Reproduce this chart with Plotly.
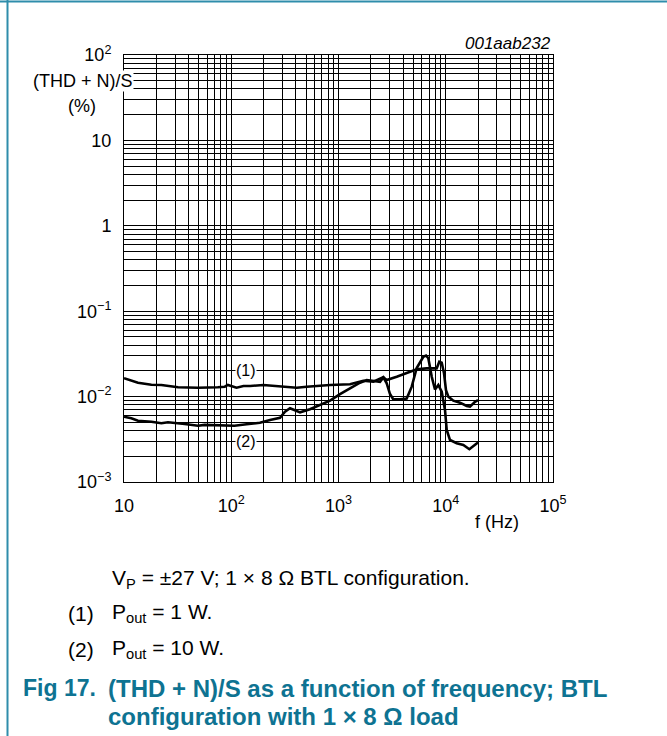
import plotly.graph_objects as go

# ---- data ----
freq1 = [10, 13.5, 18, 22.3, 31.9, 49, 75, 87, 93, 104, 112, 130, 150, 199, 265, 329, 408, 505, 627,
         834, 1280, 1374, 1703, 2112, 2619, 2815, 3020, 3246, 3744, 4323, 4817, 5360, 6180, 6550,
         6880, 7400, 7940, 8530, 9170, 9840, 10210, 10960, 12650, 14580, 16600, 19150, 20000]
thd1 = [0.0164, 0.01455, 0.01377, 0.01368, 0.01285, 0.0127, 0.01285, 0.01306, 0.01368, 0.01306,
        0.0127, 0.0133, 0.0133, 0.01368, 0.0133, 0.01306, 0.0127, 0.01306, 0.01342, 0.01368,
        0.01393, 0.01432, 0.01535, 0.01493, 0.01683, 0.01432, 0.01072, 0.00929, 0.00929, 0.0095,
        0.01306, 0.0216, 0.0293, 0.0303, 0.0281, 0.0171, 0.0121, 0.01368, 0.0114, 0.00697, 0.00406,
        0.0031, 0.00284, 0.00271, 0.00242, 0.00279, 0.0029]

freq2 = [10, 11.7, 13.5, 18, 22.3, 25.7, 36.8, 49, 56.5, 75, 93, 107, 139, 185, 230, 285, 317, 353,
         408, 438, 542, 672, 834, 1033, 1280, 1586, 1832, 2112, 2438, 2619, 2815, 3490, 4323, 5360,
         6640, 8220, 8710, 9170, 9640, 10050, 10570, 11760, 13580, 15680, 16830, 18740, 20000]
thd2 = [0.00582, 0.00557, 0.00522, 0.00508, 0.00487, 0.005, 0.00478, 0.00456, 0.00467, 0.00461,
        0.00453, 0.00456, 0.00474, 0.00494, 0.00532, 0.00566, 0.00665, 0.0073, 0.00678, 0.00654,
        0.0071, 0.00798, 0.00896, 0.0107, 0.0125, 0.01455, 0.01565, 0.0152, 0.0149, 0.0168,
        0.01565, 0.0171, 0.01875, 0.0209, 0.0214, 0.0214, 0.0256, 0.025, 0.01875, 0.0119, 0.01,
        0.00896, 0.0085, 0.00776, 0.00764, 0.0087, 0.0091]

x_tickvals = [10, 100, 1000, 10000, 100000]
x_ticktext = ["10", "10<sup>2</sup>", "10<sup>3</sup>", "10<sup>4</sup>", "10<sup>5</sup>"]
y_tickvals = [1e-3, 1e-2, 1e-1, 1, 10, 100]
y_ticktext = ["10<sup>−3</sup>", "10<sup>−2</sup>", "10<sup>−1</sup>", "1", "10", "10<sup>2</sup>"]

x_minor = [k * 10 ** d for d in range(1, 5) for k in range(2, 10)]
y_minor = [k * 10.0 ** d for d in range(-3, 2) for k in range(2, 10)]

TEAL = "#0e7392"
BORDER = "#2f8dab"
FONT = "Liberation Sans, Arial, sans-serif"

# plot area in pixels
W, H = 667, 736
L, R, T, B = 124, 553, 55, 482


def px(xp):
    return (xp - L) / (R - L)


def py(yp):
    return (B - yp) / (B - T)


fig = go.Figure()
fig.add_trace(go.Scatter(x=freq1, y=thd1, mode="lines",
                         line=dict(color="black", width=2.6), showlegend=False))
fig.add_trace(go.Scatter(x=freq2, y=thd2, mode="lines",
                         line=dict(color="black", width=2.6), showlegend=False))

axis_common = dict(
    showgrid=True, gridcolor="black", gridwidth=1,
    showline=True, linecolor="black", linewidth=1, mirror=True,
    ticks="", tickfont=dict(family=FONT, size=18, color="black"),
    zeroline=False,
)

fig.update_xaxes(type="log", range=[1, 5], tickvals=x_tickvals, ticktext=x_ticktext,
                 minor=dict(tickvals=x_minor, showgrid=True, gridcolor="black", gridwidth=1),
                 ticklabelstandoff=7, **axis_common)
fig.update_yaxes(type="log", range=[-3, 2], tickvals=y_tickvals, ticktext=y_ticktext,
                 minor=dict(tickvals=y_minor, showgrid=True, gridcolor="black", gridwidth=1),
                 ticklabelstandoff=8, **axis_common)

ann = []
# y-axis title (over grid, white background)
ann.append(dict(text="(THD + N)/S", x=px(134), y=py(81), xref="paper", yref="paper",
                xanchor="right", yanchor="middle", showarrow=False, bgcolor="white",
                borderpad=0, font=dict(family=FONT, size=18, color="black")))
ann.append(dict(text="(%)", x=px(82), y=py(106), xref="paper", yref="paper",
                xanchor="center", yanchor="middle", showarrow=False,
                font=dict(family=FONT, size=18, color="black")))
ann.append(dict(text="<i>001aab232</i>", x=1.0, y=py(44), xref="paper", yref="paper",
                xanchor="right", yanchor="middle", showarrow=False,
                font=dict(family=FONT, size=17, color="black")))
ann.append(dict(text="f (Hz)", x=px(497), y=py(522), xref="paper", yref="paper",
                xanchor="center", yanchor="middle", showarrow=False,
                font=dict(family=FONT, size=18, color="black")))
# curve labels
ann.append(dict(text="(1)", x=2.1375, y=-1.699, xref="x", yref="y", showarrow=False,
                bgcolor="white", borderpad=0, xanchor="center", yanchor="middle",
                font=dict(family=FONT, size=16, color="black")))
ann.append(dict(text="(2)", x=2.1375, y=-2.523, xref="x", yref="y", showarrow=False,
                bgcolor="white", borderpad=0, xanchor="center", yanchor="middle",
                font=dict(family=FONT, size=16, color="black")))
# notes below the chart
NOTE = dict(family=FONT, size=21, color="black")
ann.append(dict(text="V<sub>P</sub> = ±27 V; 1 × 8 Ω BTL configuration.", x=px(110), y=py(579),
                xref="paper", yref="paper", xanchor="left", yanchor="middle", showarrow=False,
                font=NOTE))
ann.append(dict(text="(1)", x=px(66), y=py(613), xref="paper", yref="paper",
                xanchor="left", yanchor="middle", showarrow=False, font=NOTE))
ann.append(dict(text="P<sub>out</sub> = 1 W.", x=px(110), y=py(613), xref="paper", yref="paper",
                xanchor="left", yanchor="middle", showarrow=False, font=NOTE))
ann.append(dict(text="(2)", x=px(66), y=py(649), xref="paper", yref="paper",
                xanchor="left", yanchor="middle", showarrow=False, font=NOTE))
ann.append(dict(text="P<sub>out</sub> = 10 W.", x=px(110), y=py(649), xref="paper", yref="paper",
                xanchor="left", yanchor="middle", showarrow=False, font=NOTE))
CAP = dict(family=FONT, size=24, color=TEAL)
ann.append(dict(text="<b>Fig 17.</b>", x=px(21), y=py(688), xref="paper", yref="paper",
                xanchor="left", yanchor="middle", showarrow=False,
                font=dict(family=FONT, size=23, color=TEAL)))
ann.append(dict(text="<b>(THD + N)/S as a function of frequency; BTL</b>", x=px(106), y=py(688),
                xref="paper", yref="paper", xanchor="left", yanchor="middle", showarrow=False,
                font=CAP))
ann.append(dict(text="<b>configuration with 1 × 8 Ω load</b>", x=px(106), y=py(716),
                xref="paper", yref="paper", xanchor="left", yanchor="middle", showarrow=False,
                font=CAP))

shapes = [
    dict(type="line", xref="paper", yref="paper", x0=px(0), x1=px(W), y0=py(1.5), y1=py(1.5),
         line=dict(color=BORDER, width=2), layer="above"),
    dict(type="line", xref="paper", yref="paper", x0=px(7.5), x1=px(7.5), y0=py(0), y1=py(H),
         line=dict(color=BORDER, width=2), layer="above"),
]

fig.update_layout(
    width=W, height=H,
    margin=dict(l=L, r=W - R, t=T, b=H - B, pad=0),
    plot_bgcolor="white", paper_bgcolor="white",
    annotations=ann, shapes=shapes, showlegend=False,
    font=dict(family=FONT, color="black"),
)

fig.write_html("out.html")
